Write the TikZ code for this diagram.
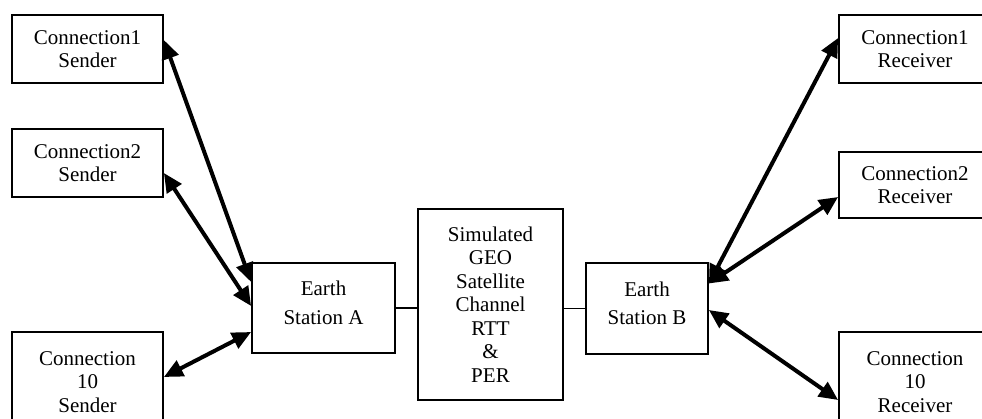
\documentclass[tikz,border=0pt]{standalone}
\usepackage{fontspec}
\setmainfont{Liberation Serif}
\usetikzlibrary{arrows.meta}

\begin{document}
\begin{tikzpicture}[x=1pt,y=-1pt,
  box/.style={draw,line width=1.8pt,align=center,inner sep=0pt,
    font=\fontsize{21}{23.5}\selectfont},
  link/.style={line width=4pt,
    {Triangle[length=19pt,width=17pt]}-{Triangle[length=19pt,width=17pt]}},
  wire/.style={line width=1.8pt}]
  \path[use as bounding box,clip] (0,0) rectangle (982,418);

  % senders
  \node[box,minimum width=151pt,minimum height=68pt] (s1) at (87.5,49)
    {Connection1\\Sender};
  \node[box,minimum width=151pt,minimum height=68pt] (s2) at (87.5,163)
    {Connection2\\Sender};
  \node[box,minimum width=151pt,minimum height=100pt] (s10) at (87.5,382)
    {Connection\\10\\Sender};

  % earth stations and channel
  \node[box,minimum width=143pt,minimum height=90pt] (esa) at (323.5,308)
    {Earth\\[5pt]Station A\\[-13pt]\mbox{}};
  \node[box,minimum width=145pt,minimum height=191pt] (ch) at (490.5,304.5)
    {Simulated\\GEO\\Satellite\\Channel\\RTT\\\&\\PER};
  \node[box,minimum width=122pt,minimum height=91pt] (esb) at (647,308.5)
    {Earth\\[5pt]Station B\\[-13pt]\mbox{}};

  % receivers
  \node[box,minimum width=152pt,minimum height=68pt] (r1) at (915,49)
    {Connection1\\Receiver};
  \node[box,minimum width=152pt,minimum height=66pt] (r2) at (915,185)
    {Connection2\\Receiver};
  \node[box,minimum width=152pt,minimum height=100pt] (r10) at (915,382)
    {Connection\\10\\Receiver};

  \draw[wire] (esa.east) -- (esa.east -| ch.west);
  \draw[wire] (ch.east |- esb.west) -- (esb.west);

  \draw[link] ([yshift=9pt]s1.east) -- ([yshift=26pt]esa.west);
  \draw[link] ([yshift=-10pt]s2.east) -- ([yshift=2pt]esa.west);
  \draw[link] ([yshift=5pt]s10.east) -- ([yshift=-24pt]esa.west);

  \draw[link] ([yshift=25pt]esb.east) -- ([yshift=11pt]r1.west);
  \draw[link] ([yshift=25pt]esb.east) -- ([yshift=-12pt]r2.west);
  \draw[link] ([yshift=-1.5pt]esb.east) -- ([yshift=-18pt]r10.west);
\end{tikzpicture}
\end{document}
